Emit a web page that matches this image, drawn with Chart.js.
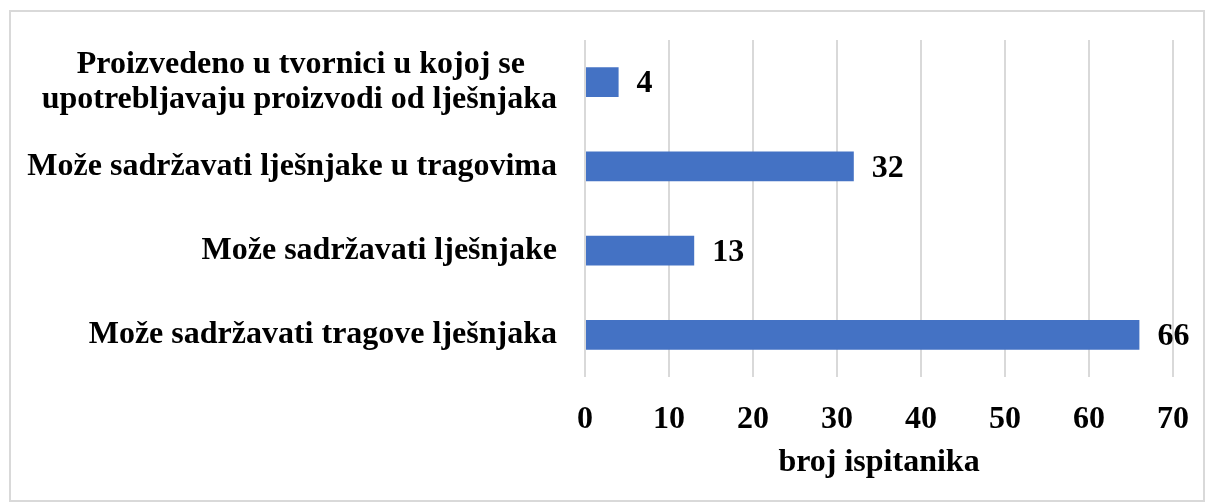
<!DOCTYPE html>
<html>
<head>
<meta charset="utf-8">
<script src="https://cdn.jsdelivr.net/npm/chart.js@4.4.0/dist/chart.umd.min.js"></script>
<style>
  html, body { margin: 0; padding: 0; background: #ffffff; }
  #wrap { position: relative; width: 1208px; height: 504px; }
  #frame { position: absolute; left: 9px; top: 10px; width: 1196px; height: 492px; border: 2px solid #d9d9d9; box-sizing: border-box; pointer-events: none; }
  canvas { position: absolute; left: 0; top: 0; }
</style>
</head>
<body>
<div id="wrap">
  <canvas id="c" width="1208" height="504"></canvas>
  <div id="frame"></div>
</div>
<script>
const categories = [
  ["Proizvedeno u tvornici u kojoj se\u00A0\u00A0\u00A0\u00A0", "upotrebljavaju proizvodi od lješnjaka"],
  "Može sadržavati lješnjake u tragovima",
  "Može sadržavati lješnjake",
  "Može sadržavati tragove lješnjaka"
];
const values = [4, 32, 13, 66];
const xTicks = [0, 10, 20, 30, 40, 50, 60, 70];
const axisTitle = "broj ispitanika";

const FONT = "'Liberation Serif', 'Times New Roman', serif";

const valueLabels = {
  id: 'valueLabels',
  afterDatasetsDraw(chart) {
    const ctx = chart.ctx;
    const meta = chart.getDatasetMeta(0);
    ctx.save();
    ctx.font = "bold 32px " + FONT;
    ctx.fillStyle = "#000000";
    ctx.textAlign = "left";
    ctx.textBaseline = "middle";
    meta.data.forEach((bar, i) => {
      ctx.fillText(String(chart.data.datasets[0].data[i]), bar.x + 18, bar.y + 2);
    });
    ctx.restore();
  }
};

new Chart(document.getElementById('c'), {
  type: 'bar',
  data: {
    labels: categories,
    datasets: [{
      data: values,
      backgroundColor: '#4472c4',
      borderColor: '#4472c4',
      borderWidth: 0,
      categoryPercentage: 1,
      barPercentage: 0.356
    }]
  },
  options: {
    indexAxis: 'y',
    responsive: false,
    animation: false,
    layout: { padding: { top: 40, right: 35, bottom: 22, left: 18 } },
    plugins: {
      legend: { display: false },
      tooltip: { enabled: false }
    },
    scales: {
      x: {
        min: 0, max: 70,
        afterBuildTicks(axis) { axis.ticks = xTicks.map(v => ({ value: v })); },
        afterFit(axis) { axis.height = 105; axis.paddingLeft = 0; axis.paddingRight = 0; },
        grid: { color: '#d9d9d9', lineWidth: 2, drawTicks: false },
        border: { display: false },
        ticks: {
          color: '#000000',
          padding: 24,
          font: { family: FONT, size: 32, weight: 'bold' }
        },
        title: {
          display: true,
          text: axisTitle,
          color: '#000000',
          padding: { top: 6, bottom: 0 },
          font: { family: FONT, size: 32, weight: 'bold' }
        }
      },
      y: {
        afterFit(axis) { axis.width = 567; axis.paddingTop = 0; axis.paddingBottom = 0; },
        grid: { display: false, drawTicks: false },
        border: { display: false },
        ticks: {
          color: '#000000',
          padding: 28,
          font: { family: FONT, size: 32, weight: 'bold', lineHeight: 1.1 }
        }
      }
    }
  },
  plugins: [valueLabels]
});
</script>
</body>
</html>
